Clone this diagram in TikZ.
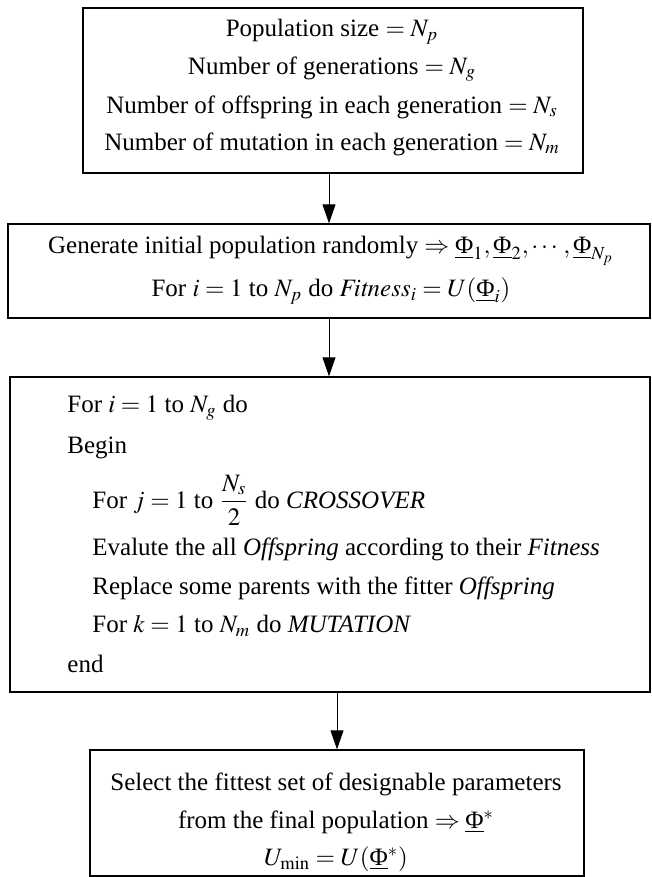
\documentclass[tikz,border=0pt]{standalone}
\usepackage{mathptmx}
\usepackage{amsmath}
\usepackage{fontspec}
\setmainfont{Liberation Serif}
\usetikzlibrary{arrows.meta,positioning}
\newcommand{\vecphi}{\underline{\text{Φ}}}

\begin{document}
\begin{tikzpicture}[x=0.5pt,y=-0.5pt,
    every node/.style={font=\fontsize{12.5}{15}\selectfont, inner sep=0pt},
    stagebox/.style={draw, line width=0.7pt},
    flowarrow/.style={-{Triangle[length=9.5pt,width=6.5pt]}, line width=0.5pt},
    codeline/.style={anchor=west}]
  \useasboundingbox (0,0) rectangle (652,877);

  % Parameters
  \node[stagebox, minimum width=250pt, minimum height=82.5pt] (params) at (333,90.5) {};
  \node (p1) at (332,32) {Population size $= N_p$};
  \node (p2) at (332,69) {Number of generations $= N_g$};
  \node (p3) at (332,107) {Number of offspring in each generation $= N_s$};
  \node (p4) at (332,144) {Number of mutation in each generation $= N_m$};

  % Initial population
  \node[stagebox, minimum width=321pt, minimum height=47pt] (init) at (329,271) {};
  \node (i1) at (331,251) {Generate initial population randomly $\Rightarrow \vecphi_1, \vecphi_2, \cdots, \vecphi_{N_p}$};
  \node (i2) at (331,291) {For $i = 1$ to $N_p$ do $\mathit{Fitness}_i = U(\vecphi_i)$};

  % Generation loop
  \node[stagebox, minimum width=320pt, minimum height=157.5pt] (loop) at (330,534.5) {};
  \node[codeline] (l1) at (67,408) {For $i = 1$ to $N_g$ do};
  \node[codeline] (l2) at (67,448) {Begin};
  \node[codeline] (l3) at (92,500) {For $j = 1$ to $\dfrac{N_s}{2}$ do \textit{CROSSOVER}};
  \node[codeline] (l4) at (92,549) {Evalute the all \textit{Offspring} according to their \textit{Fitness}};
  \node[codeline] (l5) at (92,588) {Replace some parents with the fitter \textit{Offspring}};
  \node[codeline] (l6) at (92,626) {For $k = 1$ to $N_m$ do \textit{MUTATION}};
  \node[codeline] (l7) at (67,664) {end};

  % Result
  \node[stagebox, minimum width=247pt, minimum height=63pt] (result) at (337,813) {};
  \node (r1) at (336,784) {Select the fittest set of designable parameters};
  \node (r2) at (336,822) {from the final population $\Rightarrow \vecphi^*$};
  \node (r3) at (336,859) {$U_{\min} = U(\vecphi^*)$};

  \draw[flowarrow] (params.south -| init.north) -- (init.north);
  \draw[flowarrow] (init.south) -- (init.south |- loop.north);
  \draw[flowarrow] (result.north |- loop.south) -- (result.north);
\end{tikzpicture}
\end{document}
